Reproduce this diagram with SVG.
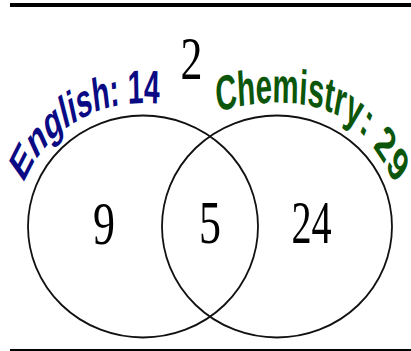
<svg xmlns="http://www.w3.org/2000/svg" width="411" height="351" viewBox="0 0 411 351">
<style>
.rule{stroke:#000;fill:none}
.set{fill:none;stroke:#111;stroke-width:1.8}
.num{font-family:"Liberation Serif","Times New Roman",serif;font-size:61px;fill:#000;text-anchor:middle}
.lab{font-family:"Liberation Sans",Arial,sans-serif;font-size:47px;font-weight:bold}
</style>
<defs>
<path id="pE" d="M39,184.6 A212,124 0 0,1 310.5,110.5"/>
<path id="pC" d="M361.7,112 C450,96 560,98 612,140 C640,160 664,188 680,222"/>
</defs>
<rect width="411" height="351" fill="#fff"/>
<g id="rules">
<line class="rule" x1="10" y1="5" x2="411" y2="5" stroke-width="4"/>
<line class="rule" x1="10" y1="350" x2="411" y2="350" stroke-width="2"/>
</g>
<g id="english">
<ellipse class="set" cx="143" cy="226.5" rx="115" ry="111"/>
<g transform="scale(0.6,1)"><text class="lab" fill="#0a0a84"><textPath href="#pE">English: 14</textPath></text></g>
<text class="num" transform="translate(104,244) scale(0.72,1)">9</text>
</g>
<g id="chemistry">
<ellipse class="set" cx="277" cy="226.5" rx="115" ry="111"/>
<g transform="scale(0.6,1)"><text class="lab" fill="#0b560b" style="font-size:49px"><textPath href="#pC">Chemistry: 29</textPath></text></g>
<text class="num" transform="translate(311.5,243) scale(0.66,1)">24</text>
</g>
<g id="both">
<text class="num" transform="translate(210,243) scale(0.72,1)">5</text>
</g>
<g id="neither">
<text class="num" transform="translate(191.5,79) scale(0.72,1)">2</text>
</g>
</svg>
